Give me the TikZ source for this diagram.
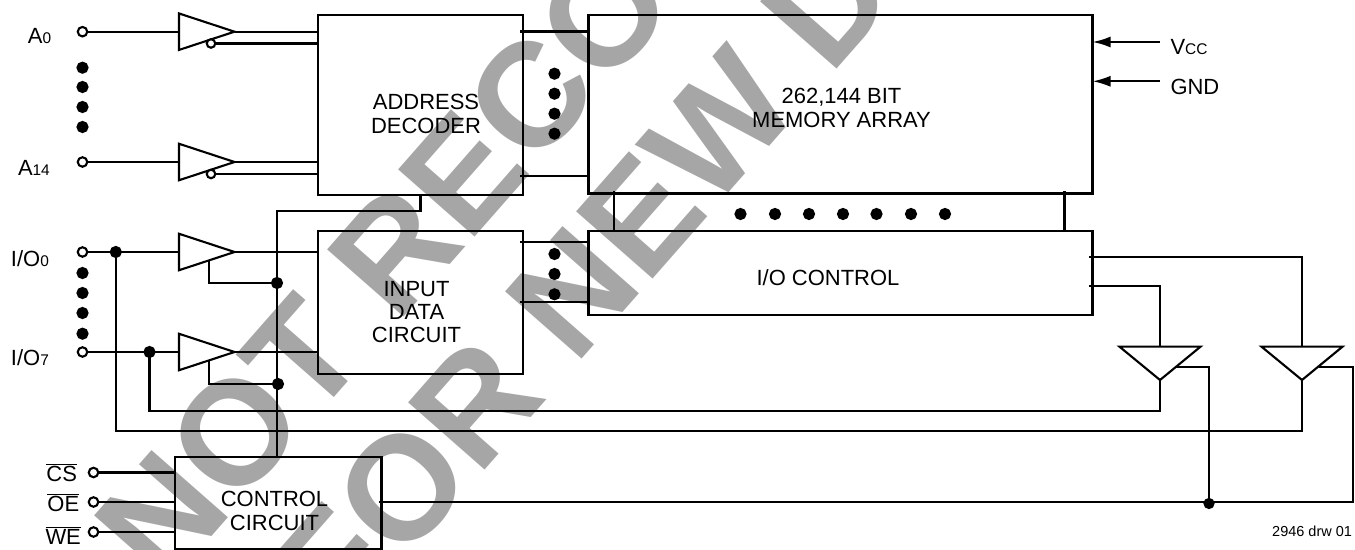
\documentclass[tikz,border=0pt]{standalone}
\usepackage{fontspec}
\setmainfont{Liberation Sans}
\usetikzlibrary{arrows.meta, shapes.geometric, positioning}
\definecolor{wmgrey}{HTML}{A6A6A6}
\newcommand{\sm}[1]{{\fontsize{8.8pt}{10pt}\selectfont #1}}
\begin{document}
\begin{tikzpicture}[line width=1.2pt,
      bx/.style={draw=black, rectangle, inner sep=0pt, outer sep=0pt},
      gr/.style={draw=black, isosceles triangle, isosceles triangle stretches, inner sep=0pt, outer sep=0pt, minimum width=0.73cm, minimum height=1.11cm, anchor=apex},
      gd/.style={gr, shape border rotate=-90, minimum width=1.62cm, minimum height=0.666cm},
      pn/.style={draw=black, circle, fill=white, inner sep=0pt, outer sep=0pt, minimum size=0.19cm},
      dt/.style={draw=black, circle, fill=black, inner sep=0pt, outer sep=0pt, minimum size=0.2cm},
      lb/.style={inner sep=0pt, outer sep=0pt, font=\fontsize{12.5pt}{13.2pt}\selectfont, align=center},
      pl/.style={lb, anchor=base west},
      wm/.style={inner sep=0pt, anchor=base west, rotate=48.7, text=wmgrey, font=\fontsize{84.2pt}{84.2pt}\selectfont\bfseries}]
      \useasboundingbox (0,0) rectangle (27.1,11);

      \node[wm] (wm1) at (3.28,-0.82) {NOT RECO};
      \node[wm] (wm2) at (6.84,-1.66) {FOR NEW D};

      \node[bx, minimum width=4.1cm, minimum height=3.6cm] (dec) at (8.41,8.9) {};
      \node[bx, minimum width=10.08cm, minimum height=3.57cm] (mem) at (16.81,8.915) {};
      \node[bx, minimum width=4.1cm, minimum height=2.866cm] (inp) at (8.41,4.953) {};
      \node[bx, minimum width=10.08cm, minimum height=1.68cm] (ioc) at (16.81,5.54) {};
      \node[bx, minimum width=4.13cm, minimum height=1.846cm] (ctl) at (5.565,0.943) {};

      \node[lb] (dect) at (8.52,8.72) {ADDRESS\\DECODER};
      \node[lb] (memt) at (16.83,8.84) {262,144 BIT\\MEMORY ARRAY};
      \node[lb] (inpt) at (8.33,4.76) {INPUT\\DATA\\CIRCUIT};
      \node[lb] (ioct) at (16.56,5.45) {I/O CONTROL};
      \node[lb] (ctlt) at (5.49,0.78) {CONTROL\\CIRCUIT};

      \node[gr] (g0) at (4.69,10.366) {};
      \node[gr] (g1) at (4.69,7.76) {};
      \node[gr] (g2) at (4.69,5.96) {};
      \node[gr] (g3) at (4.69,3.96) {};
      \node[gd] (g4) at (23.2,3.4) {};
      \node[gd] (g5) at (26.04,3.4) {};

      \node[pn] (p0) at (1.65,10.366) {};
      \node[pn] (p1) at (1.65,7.76) {};
      \node[pn] (p2) at (1.65,5.96) {};
      \node[pn] (p3) at (1.65,3.96) {};
      \node[pn] (p4) at (1.87,1.55) {};
      \node[pn] (p5) at (1.87,0.96) {};
      \node[pn] (p6) at (1.87,0.36) {};

      \node[pl] (a0) at (0.56,10.12) {A\sm{0}};
      \node[pl] (a14) at (0.36,7.486) {A\sm{14}};
      \node[pl] (io0) at (0.22,5.666) {I/O\sm{0}};
      \node[pl] (io7) at (0.22,3.686) {I/O\sm{7}};
      \node[pl] (cs) at (0.93,1.36) {$\overline{\hbox{CS}}$};
      \node[pl] (oe) at (0.95,0.76) {$\overline{\hbox{OE}}$};
      \node[pl] (we) at (0.91,0.1) {$\overline{\hbox{WE}}$};
      \node[pl] (vcc) at (23.41,9.914) {V\sm{CC}};
      \node[pl] (gnd) at (23.41,9.1) {GND};
      \node[lb, anchor=base east, font=\fontsize{8.25pt}{10pt}\selectfont] (drw) at (27.04,0.266) {2946 drw 01};

      \draw (p0) -- (g0.lower side);
      \draw (p1) -- (g1.lower side);
      \draw (p2) -- (g2.lower side);
      \draw (p3) -- (g3.lower side);
      \draw (g0.apex) -- (g0.apex -| dec.west);
      \draw (g1.apex) -- (g1.apex -| dec.west);
      \draw (g2.apex) -- (g2.apex -| inp.west);
      \draw (g3.apex) -- (g3.apex -| inp.west);
      \draw (p4) -- (p4 -| ctl.west);
      \draw (p5) -- (p5 -| ctl.west);
      \draw (p6) -- (p6 -| ctl.west);

      \node[pn, minimum size=0.17cm] (i0) at (4.22,10.13) {};
      \node[pn, minimum size=0.17cm] (i1) at (4.22,7.52) {};
      \draw (i0.east) -- (i0 -| dec.west);
      \draw (i1.east) -- (i1 -| dec.west);

      \coordinate (m1) at (10.4,10.37);
      \coordinate (m2) at (10.4,7.486);
      \coordinate (m3) at (10.4,6.166);
      \coordinate (m4) at (10.4,4.954);
      \draw (m1) -- (m1 -| mem.west);
      \draw (m2) -- (m2 -| mem.west);
      \draw (m3) -- (m3 -| ioc.west);
      \draw (m4) -- (m4 -| ioc.west);

      \coordinate (v1) at (12.28,7.17);
      \coordinate (v2) at (21.29,7.17);
      \draw (v1) -- (v1 |- ioc.north);
      \draw (v2) -- (v2 |- ioc.north);

      \coordinate (bend) at (7,6.78);
      \draw ([xshift=-0.03cm]ctl.north) |- (bend) -| (dec.south);
      \node[dt] (j2) at (5.54,5.34) {};
      \node[dt] (j3) at (5.56,3.32) {};
      \draw ([xshift=0.05cm]g2.right side) |- (j2);
      \draw ([xshift=0.05cm]g3.right side) |- (j3);

      \coordinate (o1) at (21.78,5.866);
      \coordinate (o2) at (21.78,5.28);
      \draw (o1) -| (g5.lower side);
      \draw (o2) -| (g4.lower side);

      \node[dt] (j4) at (2.99,3.96) {};
      \node[dt] (j5) at (2.316,5.96) {};
      \coordinate (k4) at (2.99,2.78);
      \coordinate (k5) at (2.316,2.38);
      \draw (g4.apex) |- (k4) -- (j4);
      \draw (g5.apex) |- (k5) -- (j5);

      \coordinate (c0) at (7.57,0.954);
      \coordinate (r5) at (27.06,0.954);
      \coordinate (e4) at (23.514,3.666);
      \coordinate (e5) at (26.37,3.666);
      \node[dt, minimum size=0.18cm] (j6) at (24.18,0.93) {};
      \draw (c0) -- (r5) |- (e5);
      \draw (e4) -| (j6);

      \coordinate (s1) at (23.19,10.16);
      \coordinate (s2) at (23.19,9.374);
      \draw[-{Latex[length=0.36cm,width=0.22cm]}] (s1) -- (s1 -| mem.east);
      \draw[-{Latex[length=0.36cm,width=0.22cm]}] (s2) -- (s2 -| mem.east);

      \draw node[dt] (d1) at (1.65,9.646) {} node[dt] (d2) at (1.65,9.26) {} node[dt] (d3) at (1.65,8.86) {} node[dt] (d4) at (1.65,8.46) {};
      \draw node[dt] (d5) at (1.65,5.54) {} node[dt] (d6) at (1.65,5.14) {} node[dt] (d7) at (1.65,4.74) {} node[dt] (d8) at (1.65,4.326) {};
      \draw node[dt] (d9) at (11.09,9.526) {} node[dt] (d10) at (11.09,9.126) {} node[dt] (d11) at (11.09,8.726) {} node[dt] (d12) at (11.09,8.326) {};
      \draw node[dt] (d13) at (11.09,5.92) {} node[dt] (d14) at (11.09,5.52) {} node[dt] (d15) at (11.09,5.114) {};
      \draw node[dt] (r1) at (14.81,6.72) {} node[dt] (r2) at (15.5,6.72) {} node[dt] (r3) at (16.18,6.72) {} node[dt] (r4) at (16.86,6.72) {} node[dt] (r5a) at (17.53,6.72) {} node[dt] (r6) at (18.22,6.72) {} node[dt] (r7) at (18.9,6.72) {};
    \end{tikzpicture}
\end{document}
